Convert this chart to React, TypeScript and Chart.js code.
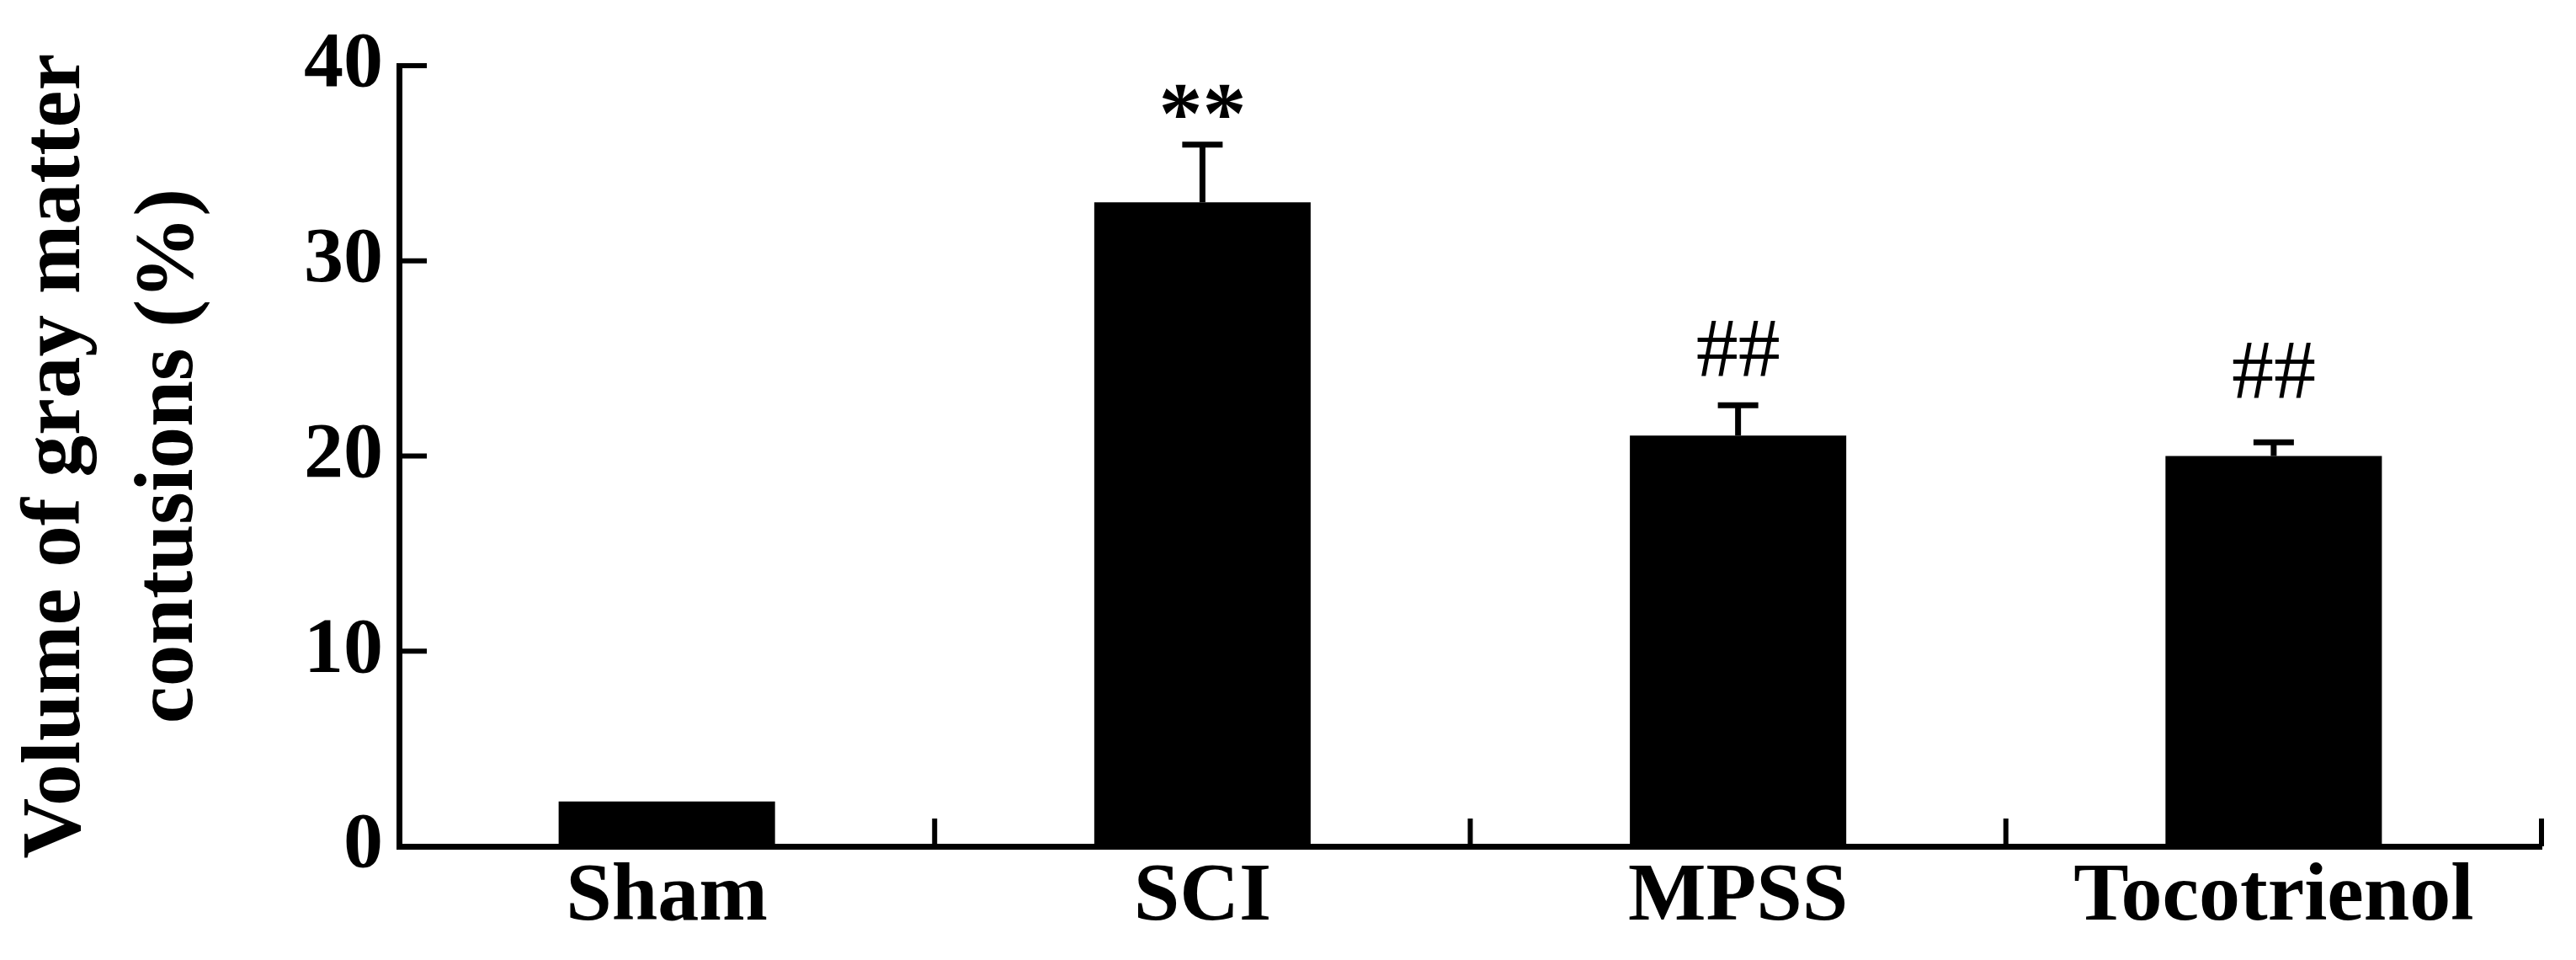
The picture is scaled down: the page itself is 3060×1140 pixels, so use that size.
import React, { useEffect, useRef } from "react";
import { Chart, registerables } from "chart.js";

Chart.register(...registerables);

const categories = ["Sham", "SCI", "MPSS", "Tocotrienol"];
const meanValues = [2.3, 33.0, 21.05, 20.0];
const errorValues = [0, 2.95, 1.55, 0.7];
const annotationLabels = ["", "**", "##", "##"];
const annotationLevels = [0, 38.2, 25.5, 24.4];
const yTickValues = [0, 10, 20, 30, 40];
const yTitleLines = ["Volume of gray matter", "contusions (%)"];

const SERIF = "'Liberation Serif', 'Times New Roman', serif";

const overlayPlugin = {
  id: "overlay",
  afterDatasetsDraw(chart: any) {
    const ctx = chart.ctx as CanvasRenderingContext2D;
    const xs = chart.scales.x;
    const ys = chart.scales.y;
    const area = chart.chartArea;
    ctx.save();
    ctx.strokeStyle = "#000";
    ctx.fillStyle = "#000";
    ctx.lineCap = "butt";

    // inward y ticks
    ctx.lineWidth = 6;
    yTickValues.forEach((v) => {
      if (v === 0) return;
      const py = ys.getPixelForValue(v);
      ctx.beginPath();
      ctx.moveTo(area.left, py);
      ctx.lineTo(area.left + 33, py);
      ctx.stroke();
    });

    // inward x ticks at category boundaries
    categories.forEach((_, i) => {
      const px = xs.getPixelForValue(i + 0.5);
      ctx.beginPath();
      ctx.moveTo(px, area.bottom);
      ctx.lineTo(px, area.bottom - 33);
      ctx.stroke();
    });

    // error bars
    ctx.lineWidth = 7;
    meanValues.forEach((m, i) => {
      const e = errorValues[i];
      if (!e) return;
      const px = xs.getPixelForValue(i);
      const top = ys.getPixelForValue(m);
      const cap = ys.getPixelForValue(m + e);
      ctx.beginPath();
      ctx.moveTo(px, top);
      ctx.lineTo(px, cap);
      ctx.stroke();
      ctx.beginPath();
      ctx.moveTo(px - 24, cap);
      ctx.lineTo(px + 24, cap);
      ctx.stroke();
    });

    // significance marks
    annotationLabels.forEach((label, i) => {
      if (!label) return;
      const px = xs.getPixelForValue(i);
      const cy = ys.getPixelForValue(annotationLevels[i]);
      ctx.font = label === "**" ? `bold 104px ${SERIF}` : `100px ${SERIF}`;
      ctx.textAlign = "center";
      ctx.textBaseline = "alphabetic";
      const m = ctx.measureText(label);
      const base = cy + (m.actualBoundingBoxAscent - m.actualBoundingBoxDescent) / 2;
      ctx.fillText(label, px, base);
    });

    ctx.restore();
  },
};

export default function App() {
  const canvasRef = useRef<HTMLCanvasElement | null>(null);

  useEffect(() => {
    const canvas = canvasRef.current;
    if (!canvas) return;
    const chart = new Chart(canvas, {
      type: "bar",
      data: {
        labels: categories,
        datasets: [
          {
            data: meanValues,
            backgroundColor: "#000",
            borderWidth: 0,
            categoryPercentage: 1,
            barPercentage: 0.404,
          },
        ],
      },
      options: {
        responsive: false,
        animation: false,
        devicePixelRatio: 1,
        layout: { padding: { top: 78, right: 41, left: 0, bottom: 0 } },
        plugins: {
          legend: { display: false },
          tooltip: { enabled: false },
        },
        scales: {
          x: {
            grid: { display: false, drawTicks: false },
            border: { display: true, color: "#000", width: 7 },
            ticks: {
              color: "#000",
              padding: 3,
              font: { family: SERIF, size: 98, weight: "bold" },
              maxRotation: 0,
              autoSkip: false,
            },
            afterFit: (scale: any) => {
              scale.height = 135;
            },
          },
          y: {
            min: 0,
            max: 40,
            grid: { display: false, drawTicks: false },
            border: { display: true, color: "#000", width: 7 },
            ticks: {
              stepSize: 10,
              color: "#000",
              padding: 19,
              font: { family: SERIF, size: 94, weight: "bold" },
            },
            title: {
              display: true,
              text: yTitleLines,
              color: "#000",
              font: { family: SERIF, size: 99, weight: "bold", lineHeight: 1.35 },
              padding: { top: 2, bottom: 0 },
            },
            afterFit: (scale: any) => {
              scale.width = 474;
            },
          },
        },
      },
      plugins: [overlayPlugin],
    });
    return () => chart.destroy();
  }, []);

  return (
    <div
      style={{
        position: "fixed",
        left: 0,
        top: 0,
        width: 3060,
        height: 1140,
        background: "#fff",
        overflow: "hidden",
      }}
    >
      <canvas ref={canvasRef} width={3060} height={1140} style={{ display: "block" }} />
    </div>
  );
}
